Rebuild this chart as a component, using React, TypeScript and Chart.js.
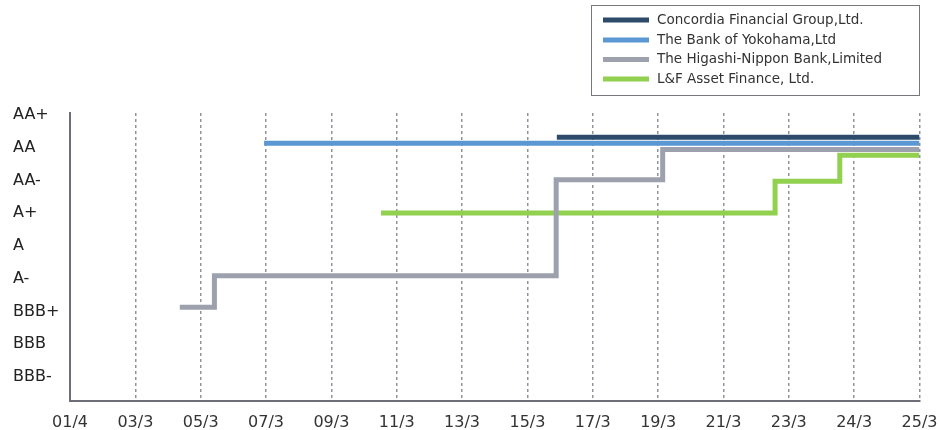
import React, { useEffect, useRef } from "react";
import { Chart, registerables } from "chart.js";

Chart.register(...registerables);

// Category tick labels (x) and rating tick labels (y, bottom → top)
const xLabels = ["01/4", "03/3", "05/3", "07/3", "09/3", "11/3", "13/3", "15/3", "17/3", "19/3", "21/3", "23/3", "24/3", "25/3"];
const yLabels = ["BBB-", "BBB", "BBB+", "A-", "A", "A+", "AA-", "AA", "AA+"];

const seriesNames = [
  "Concordia Financial Group,Ltd.",
  "The Bank of Yokohama,Ltd",
  "The Higashi-Nippon Bank,Limited",
  "L&F Asset Finance, Ltd.",
];
const seriesColors = ["#2d4a6b", "#5b97d3", "#9da1ad", "#92d050"];

// Step points: x = position on the category axis, y = rating index (slightly offset where lines overlap)
const concordiaX = [7.45, 13];
const concordiaY = [7.32, 7.32];
const yokohamaX = [2.97, 13];
const yokohamaY = [7.14, 7.14];
const higashiX = [1.68, 2.21, 7.44, 9.07, 13];
const higashiY = [2.13, 3.09, 6.02, 6.95, 6.95];
const lfX = [4.76, 10.79, 11.78, 13];
const lfY = [5.01, 5.98, 6.77, 6.77];

const seriesX = [concordiaX, yokohamaX, higashiX, lfX];
const seriesY = [concordiaY, yokohamaY, higashiY, lfY];

const boxLegend = {
  id: "boxLegend",
  afterDraw(chart: any) {
    const ctx = chart.ctx;
    ctx.save();
    ctx.strokeStyle = "#77777f";
    ctx.lineWidth = 1;
    ctx.strokeRect(591.5, 5.5, 328, 90);
    const rows = [20, 40, 59.5, 79];
    chart.data.datasets.forEach((ds: any, i: number) => {
      const y = rows[i];
      ctx.strokeStyle = ds.borderColor;
      ctx.lineWidth = 5;
      ctx.beginPath();
      ctx.moveTo(603, y);
      ctx.lineTo(649, y);
      ctx.stroke();
      ctx.fillStyle = "#333333";
      ctx.font = "13.5px 'DejaVu Sans'";
      ctx.textBaseline = "middle";
      ctx.textAlign = "left";
      ctx.fillText(ds.label, 657, y);
    });
    ctx.restore();
  },
};

export default function App() {
  const canvasRef = useRef<HTMLCanvasElement | null>(null);

  useEffect(() => {
    document.body.style.margin = "0";
    const canvas = canvasRef.current;
    if (!canvas) return;
    const datasets = seriesNames.map((name, i) => ({
      label: name,
      data: seriesX[i].map((x, j) => ({ x, y: seriesY[i][j] })),
      borderColor: seriesColors[i],
      backgroundColor: seriesColors[i],
      borderWidth: 5,
      pointRadius: 0,
      stepped: "before" as const,
      fill: false,
      tension: 0,
    }));
    const chart = new Chart(canvas, {
      type: "line",
      data: { datasets },
      plugins: [boxLegend],
      options: {
        animation: false,
        responsive: true,
        maintainAspectRatio: false,
        devicePixelRatio: 1,
        layout: { padding: { top: 113, left: 13, right: 20.5, bottom: 0 } },
        plugins: { legend: { display: false }, tooltip: { enabled: false } },
        scales: {
          x: {
            type: "linear",
            min: 0,
            max: 13,
            afterBuildTicks: (scale: any) => {
              scale.ticks = xLabels.map((_, i) => ({ value: i }));
            },
            afterFit: (scale: any) => {
              scale.height = 29;
              scale.paddingLeft = 0;
              scale.paddingRight = 0;
            },
            ticks: {
              autoSkip: false,
              maxRotation: 0,
              padding: 12,
              color: "#333333",
              font: { family: "'DejaVu Sans'", size: 16 },
              callback: (v: any) => xLabels[Number(v)] ?? "",
            },
            grid: {
              drawTicks: false,
              lineWidth: 1.5,
              color: (c: any) => (c.tick && c.tick.value === 0 ? "rgba(0,0,0,0)" : "#92929c"),
            },
            border: { display: true, color: "#6e6e78", width: 2, dash: [3, 3] },
          },
          y: {
            type: "linear",
            min: -0.733,
            max: 8.061,
            afterBuildTicks: (scale: any) => {
              scale.ticks = yLabels.map((_, i) => ({ value: i }));
            },
            afterFit: (scale: any) => {
              scale.width = 57;
              scale.paddingTop = 0;
              scale.paddingBottom = 0;
            },
            ticks: {
              crossAlign: "far",
              color: "#222222",
              font: { family: "'DejaVu Sans'", size: 16 },
              callback: (v: any) => yLabels[Number(v)] ?? "",
            },
            grid: { display: false, drawTicks: false },
            border: { display: true, color: "#6e6e78", width: 2 },
          },
        },
      } as any,
    });
    return () => chart.destroy();
  }, []);

  return (
    <div style={{ position: "fixed", left: 0, top: 0, width: 940, height: 430, background: "#ffffff" }}>
      <canvas ref={canvasRef} />
    </div>
  );
}
